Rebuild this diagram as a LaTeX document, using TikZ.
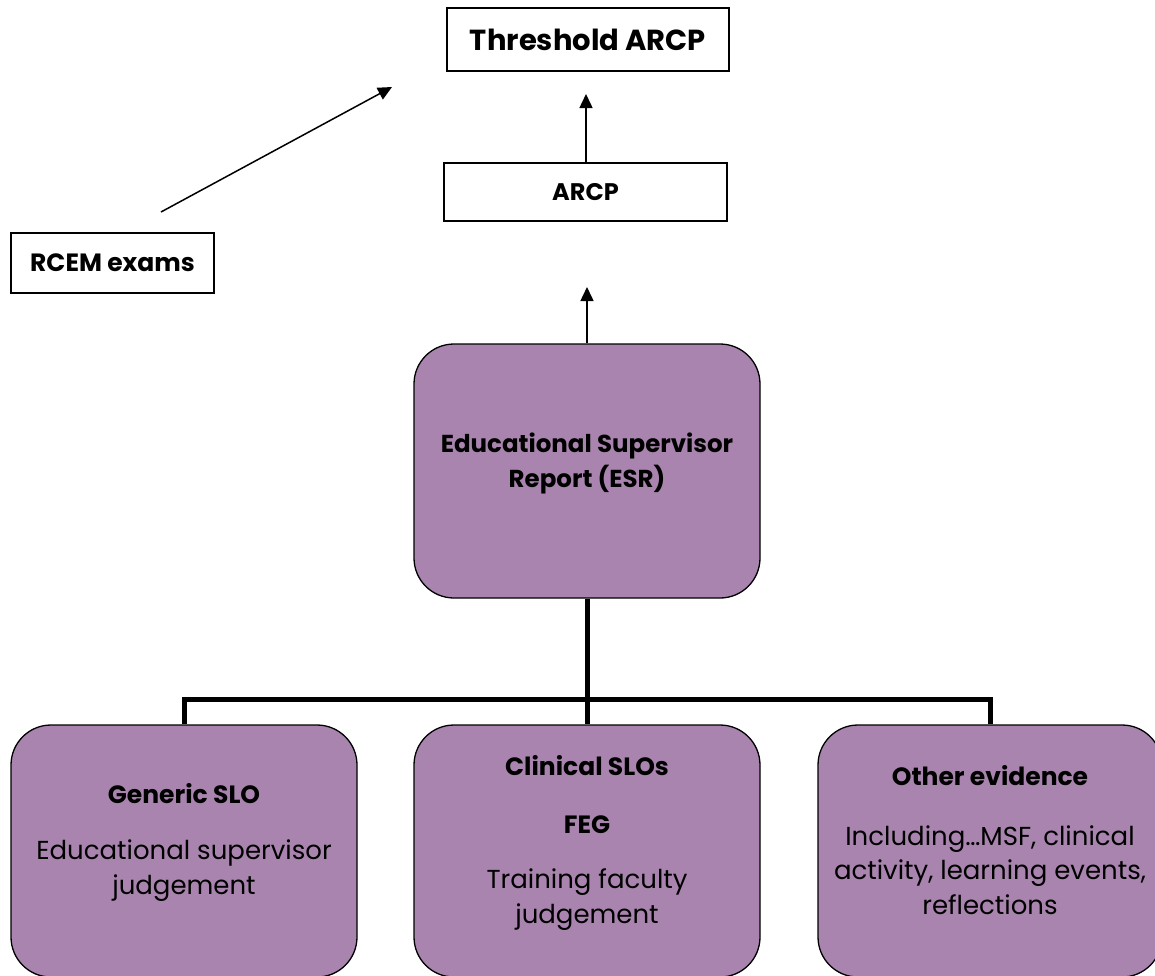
\documentclass[tikz,border=0pt]{standalone}
\usepackage{fontspec}
\setmainfont{Poppins}
\usetikzlibrary{arrows.meta}
\definecolor{boxpurple}{RGB}{169,132,174}
\begin{document}
\begin{tikzpicture}[x=1pt,y=-1pt,
  plainbox/.style={draw=black, line width=1.3pt, fill=white, inner sep=0pt},
  roundbox/.style={draw=black, line width=1.3pt, fill=boxpurple, rounded corners=40pt, inner sep=0pt},
  thinarrow/.style={line width=1.5pt, -{Triangle[length=14pt,width=13pt]}},
  trunk/.style={line width=5pt},
  headtext/.style={font=\fontsize{25}{35}\selectfont\bfseries, align=center, anchor=base},
  bodytext/.style={font=\fontsize{26}{34.5}\selectfont, align=center, anchor=base},
]
\useasboundingbox (0,0) rectangle (1155,975);

% top boxes
\node[plainbox, minimum width=282pt, minimum height=63pt, font=\fontsize{29}{34}\selectfont\bfseries] (thr) at (588,39.5) {Threshold ARCP};
\node[plainbox, minimum width=283pt, minimum height=58pt, font=\fontsize{24}{28}\selectfont\bfseries] (arcp) at (585.5,192) {ARCP};
\node[plainbox, minimum width=203pt, minimum height=60pt, font=\fontsize{25}{30}\selectfont\bfseries] (rcem) at (112.5,263) {RCEM exams};

% arrows
\coordinate (thrtip) at (586,94);
\coordinate (arcptip) at (587,287);
\coordinate (diagstart) at (161,212);
\coordinate (diagtip) at (392,87);
\draw[thinarrow] (arcp.north -| thrtip) -- (thrtip);
\draw[thinarrow] (diagstart) -- (diagtip);

% ESR
\node[roundbox, minimum width=346pt, minimum height=254pt] (esr) at (587,471) {};
\node[headtext, font=\fontsize{24.5}{35}\selectfont\bfseries] (esrtext) at (587,487) {Educational Supervisor\\Report (ESR)};
\draw[thinarrow] (esr.north) -- (arcptip);

% bottom boxes
\node[roundbox, minimum width=346pt, minimum height=252pt] (gen) at (184,851) {};
\node[roundbox, minimum width=346pt, minimum height=252pt] (cli) at (587,851) {};
\node[roundbox, minimum width=344pt, minimum height=252pt] (oth) at (990,851) {};

% connectors
\draw[trunk] (esr.south) -- (cli.north);
\draw[trunk] (gen.north) -- ++(0,-25) -| (oth.north);

% texts
\node[headtext] (gent) at (184,803) {Generic SLO};
\node[bodytext] (genb) at (184,894) {Educational supervisor\\judgement};

\node[headtext] (clit) at (587,775) {Clinical SLOs};
\node[headtext] (clif) at (587,833) {FEG};
\node[bodytext] (clib) at (587,923) {Training faculty\\judgement};

\node[headtext] (otht) at (990,785) {Other evidence};
\node[bodytext] (othb) at (990,914) {Including…MSF, clinical\\activity, learning events,\\reflections};
\end{tikzpicture}
\end{document}
